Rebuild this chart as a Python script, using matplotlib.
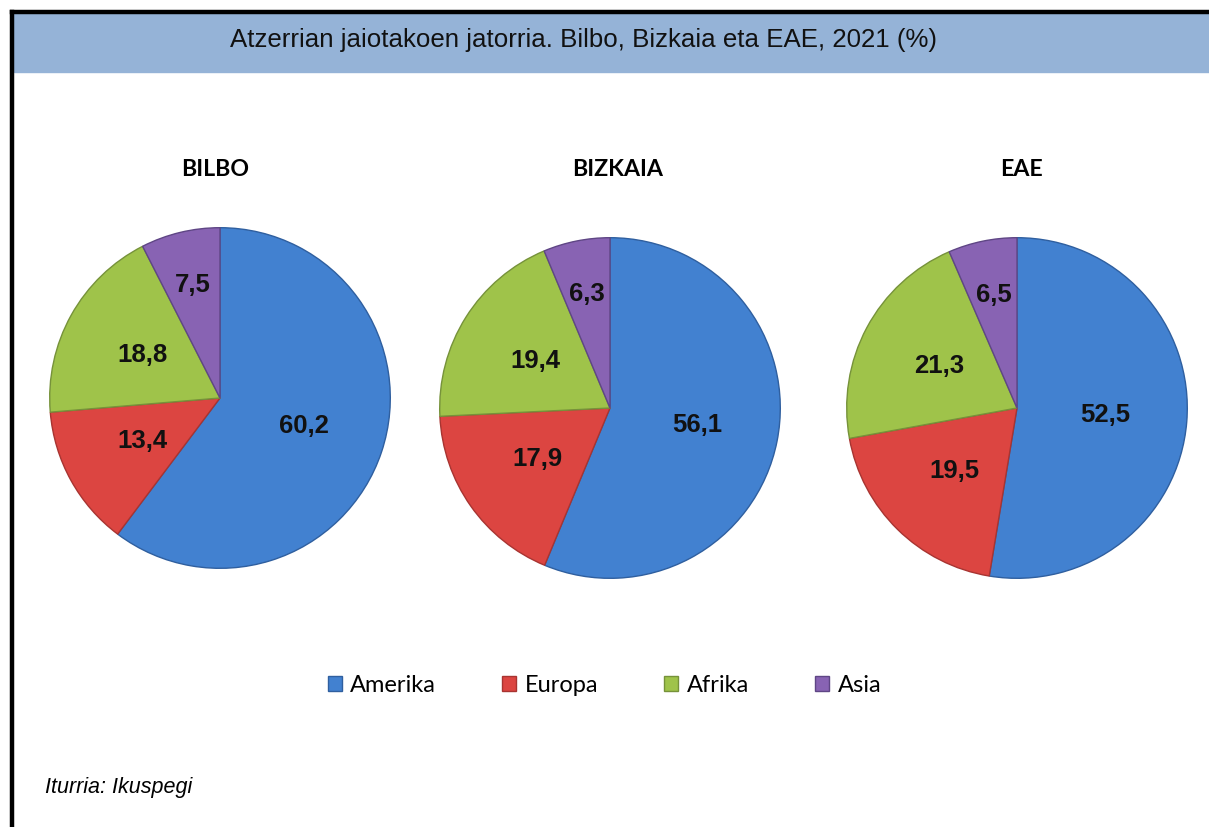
import matplotlib.pyplot as plt
import numpy as np
from matplotlib.patches import Rectangle
from matplotlib.lines import Line2D

regions = ["BILBO", "BIZKAIA", "EAE"]
origins = ["Amerika", "Europa", "Afrika", "Asia"]
bilbo = [60.2, 13.4, 18.8, 7.5]
bizkaia = [56.1, 17.9, 19.4, 6.3]
eae = [52.5, 19.5, 21.3, 6.5]
values = [bilbo, bizkaia, eae]

colors = ["#4281d0", "#dc4541", "#9fc34a", "#8863b3"]
edges = ["#2f5f9f", "#a83431", "#76923a", "#5f4685"]

W, H = 1209, 827
fig = plt.figure(figsize=(W / 100, H / 100), dpi=100)

# title band and frame
fig.patches.append(Rectangle((14 / W, 1 - 72 / H), 1 - 14 / W, 58 / H,
                             transform=fig.transFigure, color="#95b3d7", zorder=0))
fig.lines.append(Line2D([12 / W, 1], [1 - 12 / H, 1 - 12 / H],
                        transform=fig.transFigure, color="black", lw=3.2,
                        solid_capstyle="projecting"))
fig.lines.append(Line2D([12 / W, 12 / W], [0, 1 - 12 / H],
                        transform=fig.transFigure, color="black", lw=3.2,
                        solid_capstyle="projecting"))
fig.text(584 / W, 1 - 40 / H, "Atzerrian jaiotakoen jatorria. Bilbo, Bizkaia eta EAE, 2021 (%)",
         ha="center", va="center", fontsize=18.6, family="Liberation Sans", color="#111111")

# pie boxes: (left, top) in pixels, radius 172
boxes = [(48, 226), (438, 236), (845, 236)]
title_x = [215, 618, 1022]
R = 172

wedge_handles = None
for name, vals, (lx, ty), tx in zip(regions, values, boxes, title_x):
    ax = fig.add_axes([lx / W, 1 - (ty + 2 * R) / H, 2 * R / W, 2 * R / H])
    wedges, _ = ax.pie(vals, colors=colors, startangle=90, counterclock=False,
                       wedgeprops=dict(linewidth=1.0))
    for w, ec in zip(wedges, edges):
        w.set_edgecolor(ec)
    for w, v in zip(wedges, vals):
        mid = np.deg2rad((w.theta1 + w.theta2) / 2)
        d = 0.68 if v < 10 else 0.52
        ax.text(d * np.cos(mid), d * np.sin(mid), f"{v:.1f}".replace(".", ","),
                ha="center", va="center", fontsize=18.5, fontweight="bold",
                family="Liberation Sans", color="#111111")
    ax.set_xlim(-1.01, 1.01)
    ax.set_ylim(-1.01, 1.01)
    ax.set_aspect("equal")
    ax.axis("off")
    fig.text(tx / W, 1 - 170 / H, name, ha="center", va="center",
             fontsize=16.7, fontweight="bold", family="Lato")
    if wedge_handles is None:
        wedge_handles = wedges

fig.legend(wedge_handles, origins, loc="center", bbox_to_anchor=(0.5, 1 - 685 / H),
           ncol=4, frameon=False, prop=dict(family="Lato", size=17),
           handlelength=0.6, handleheight=0.6, handletextpad=0.35, columnspacing=2.8)

fig.text(45 / W, 1 - 787 / H, "Iturria: Ikuspegi", ha="left", va="center",
         fontsize=15.5, style="italic", family="Liberation Sans")

fig.savefig("out.png", dpi=100, facecolor="white")
